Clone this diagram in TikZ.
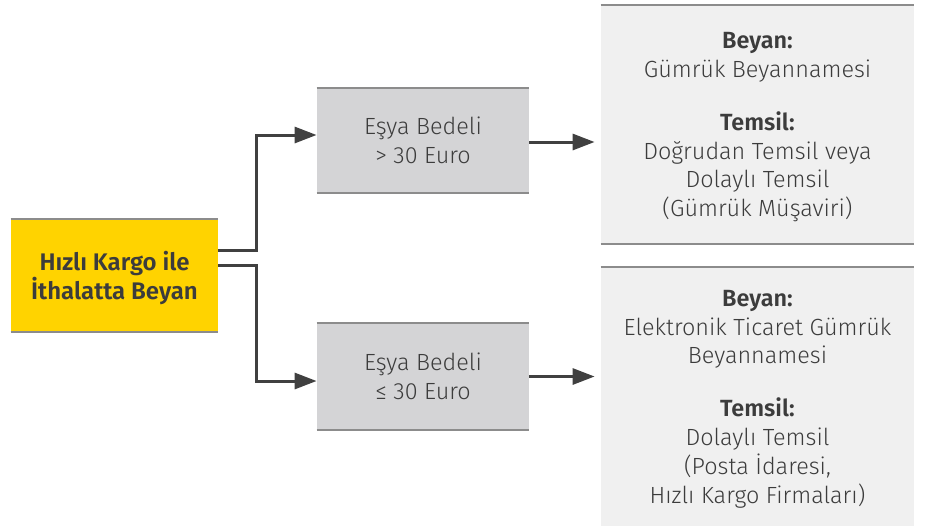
\documentclass[tikz,border=0pt]{standalone}
\usepackage{fontspec}
\setmainfont{Fira Sans Light}[BoldFont={Fira Sans SemiBold}]
\usetikzlibrary{arrows.meta}
\definecolor{sari}{HTML}{FFD300}
\definecolor{orta}{HTML}{D4D4D6}
\definecolor{acik}{HTML}{F0F0F0}
\definecolor{cizgi}{HTML}{8C8C8C}
\definecolor{okrenk}{HTML}{404040}
\definecolor{yazi}{HTML}{3C3C3C}

\begin{document}
\begin{tikzpicture}[
                x=0.5pt, y=-0.5pt,
                kutu/.style={inner sep=0pt, align=center, text=yazi, text depth=-2.5pt,
                    font=\fontsize{11.7}{14.4}\selectfont},
                kenar/.style={draw=cizgi, line width=1pt},
                ok/.style={draw=okrenk, line width=1.5pt,
                    -{Triangle[length=11pt, width=8pt]}} ]

            \useasboundingbox (0,0) rectangle (931,526);

            \node[kutu, fill=sari, minimum width=103.5pt, minimum height=56.5pt,
                font=\bfseries\fontsize{12}{12.2}\selectfont]
            (kargo) at (114.5,275.5) {Hızlı Kargo ile\\İthalatta Beyan};

            \node[kutu, fill=orta, minimum width=106pt, minimum height=52.5pt]
            (ust) at (423,140.5) {Eşya Bedeli\\> 30 Euro};
            \node[kutu, fill=orta, minimum width=106pt, minimum height=53.5pt]
            (alt) at (423,376.5) {Eşya Bedeli\\≤ 30 Euro};

            \node[kutu, fill=acik, minimum width=156.5pt, minimum height=119.5pt]
            (sagust) at (757.5,124.5) {\textbf{Beyan:}\\Gümrük Beyannamesi\\[12pt]
                \textbf{Temsil:}\\Doğrudan Temsil veya\\Dolaylı Temsil\\(Gümrük Müşaviri)};
            \node[kutu, fill=acik, minimum width=156.5pt, minimum height=129.5pt]
            (sagalt) at (757.5,396.5) {\textbf{Beyan:}\\Elektronik Ticaret Gümrük\\Beyannamesi\\[12pt]
                \textbf{Temsil:}\\Dolaylı Temsil\\(Posta İdaresi,\\Hızlı Kargo Firmaları)};

            \foreach \n in {kargo, ust, alt, sagust} {
                    \draw[kenar] (\n.north west) -- (\n.north east)
                    (\n.south west) -- (\n.south east);
                }
            \draw[kenar] (sagalt.north west) -- (sagalt.north east);

            \draw[ok] ([yshift=12.75pt]kargo.east) -- ++(38,0) |- ([yshift=2.75pt]ust.west);
            \draw[ok] ([yshift=5.25pt]kargo.east) -- ++(38,0) |- ([yshift=-2.25pt]alt.west);
            \draw[ok, shorten >=3pt] ([yshift=-0.75pt]ust.east) -- ([yshift=-0.75pt]ust.east -| sagust.west);
            \draw[ok, shorten >=3pt] (alt.east) -- (alt.east -| sagalt.west);

        \end{tikzpicture}
\end{document}
